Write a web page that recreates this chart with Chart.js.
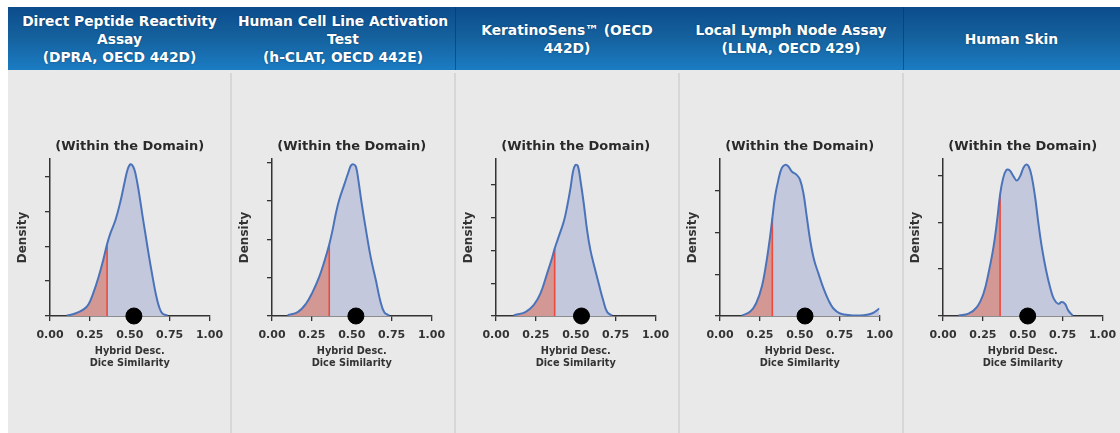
<!DOCTYPE html>
<html>
<head>
<meta charset="utf-8">
<script src="https://cdn.jsdelivr.net/npm/chart.js@4"></script>
<style>
  html, body { margin: 0; padding: 0; width: 1120px; height: 433px; overflow: hidden; background: #ffffff; }
  #header { position: absolute; left: 8px; top: 7px; width: 1112px; height: 63px;
    background: linear-gradient(to bottom, #0c4c8c 0%, #15629f 50%, #1b7cc3 100%); }
  .hcell { position: absolute; top: 0; height: 63px; display: flex; align-items: center; justify-content: center;
    text-align: center; color: #ffffff; font: bold 13.8px "DejaVu Sans", sans-serif; line-height: 18px;
    text-shadow: 0 0 2px rgba(0,0,0,0.35); }
  .hsep { position: absolute; top: 0; width: 1px; height: 63px; background: rgba(10,50,100,0.55); }
  #panels { position: absolute; left: 8px; top: 70px; width: 1112px; height: 363px; background: #e9e9e9; }
  .psep { position: absolute; top: 73px; width: 2px; height: 360px; background: #d7d7d7; }
  canvas.c { position: absolute; top: 130px; }
</style>
</head>
<body>
<div id="header"></div>
<div id="panels"></div>
<script>
// ---- data ----
const panelTitles = [
  ["Direct Peptide Reactivity", "Assay", "(DPRA, OECD 442D)"],
  ["Human Cell Line Activation", "Test", "(h-CLAT, OECD 442E)"],
  ["KeratinoSens\u2122 (OECD", "442D)"],
  ["Local Lymph Node Assay", "(LLNA, OECD 429)"],
  ["Human Skin"]
];
const subTitle = "(Within the Domain)";
const xTickValues = [0, 0.25, 0.5, 0.75, 1.0];

const dpraX = [0.105, 0.158, 0.211, 0.242, 0.274, 0.305, 0.333, 0.358, 0.379, 0.411, 0.442, 0.467, 0.488, 0.505, 0.522, 0.537, 0.558, 0.579, 0.600, 0.621, 0.642, 0.663, 0.684, 0.705, 0.737];
const dpraY = [0.01, 0.07, 0.19, 0.34, 0.69, 1.125, 1.59, 2.06, 2.375, 2.76, 3.29, 3.82, 4.22, 4.35, 4.28, 4.06, 3.53, 2.90, 2.30, 1.70, 1.15, 0.64, 0.26, 0.07, 0.01];

const hclatX = [0.098, 0.161, 0.213, 0.255, 0.296, 0.328, 0.359, 0.380, 0.401, 0.422, 0.453, 0.478, 0.495, 0.511, 0.526, 0.541, 0.562, 0.589, 0.620, 0.651, 0.678, 0.704, 0.735];
const hclatY = [0.02, 0.10, 0.32, 0.63, 1.02, 1.42, 1.87, 2.25, 2.69, 3.04, 3.43, 3.74, 3.93, 3.96, 3.90, 3.56, 2.95, 2.25, 1.51, 0.94, 0.41, 0.10, 0.01];

const kerX = [0.111, 0.184, 0.236, 0.278, 0.320, 0.351, 0.368, 0.393, 0.425, 0.446, 0.467, 0.483, 0.498, 0.513, 0.529, 0.550, 0.571, 0.592, 0.617, 0.644, 0.672, 0.697, 0.728];
const kerY = [0.02, 0.12, 0.33, 0.68, 1.29, 1.76, 2.06, 2.42, 2.88, 3.34, 3.90, 4.41, 4.61, 4.58, 4.15, 3.44, 2.62, 2.01, 1.50, 0.99, 0.48, 0.12, 0.01];

const llnaX = [0.136, 0.188, 0.226, 0.262, 0.293, 0.314, 0.328, 0.345, 0.366, 0.387, 0.408, 0.429, 0.450, 0.481, 0.502, 0.523, 0.544, 0.565, 0.590, 0.617, 0.649, 0.680, 0.711, 0.753, 0.816, 0.900, 0.952, 1.000];
const llnaY = [0.01, 0.10, 0.30, 0.70, 1.34, 1.90, 2.34, 2.86, 3.26, 3.54, 3.62, 3.58, 3.46, 3.38, 3.26, 2.94, 2.38, 1.82, 1.34, 1.02, 0.66, 0.38, 0.18, 0.06, 0.02, 0.02, 0.06, 0.18];

const skinX = [0.098, 0.160, 0.2125, 0.254, 0.285, 0.317, 0.342, 0.358, 0.375, 0.396, 0.417, 0.442, 0.4625, 0.483, 0.504, 0.521, 0.5375, 0.556, 0.577, 0.598, 0.619, 0.646, 0.671, 0.696, 0.723, 0.744, 0.765, 0.785, 0.8125];
const skinY = [0.01, 0.05, 0.19, 0.48, 0.91, 1.48, 2.12, 2.59, 2.91, 3.11, 3.11, 2.98, 2.89, 2.98, 3.16, 3.23, 3.19, 2.98, 2.55, 1.98, 1.48, 0.98, 0.62, 0.36, 0.26, 0.30, 0.26, 0.12, 0.01];

const curvesX = [dpraX, hclatX, kerX, llnaX, skinX];
const curvesY = [dpraY, hclatY, kerY, llnaY, skinY];
const thresholds = [0.358, 0.359, 0.368, 0.328, 0.358];
const queryPoint = [0.526, 0.526, 0.536, 0.533, 0.531];
const yAxisMax = [4.5, 4.1, 4.79, 3.76, 3.35];

// ---- layout (positions only) ----
const panelLefts = [8, 231, 455, 679, 903];
const canvasLefts = [9, 231, 455, 679, 902];

const header = document.getElementById('header');
const hRights = [231, 455, 679, 903, 1120];
panelTitles.forEach((lines, i) => {
  const d = document.createElement('div');
  d.className = 'hcell';
  d.style.left = (panelLefts[i] - 8) + 'px';
  d.style.width = (hRights[i] - panelLefts[i]) + 'px';
  d.innerHTML = lines.join('<br>');
  header.appendChild(d);
});
[455, 903].forEach(x => {
  const s = document.createElement('div'); s.className = 'hsep'; s.style.left = (x - 8) + 'px'; header.appendChild(s);
});
[231, 455, 679, 903].forEach(x => {
  const s = document.createElement('div'); s.className = 'psep'; s.style.left = (x - 1) + 'px'; document.body.appendChild(s);
});

const FONT = '"DejaVu Sans", sans-serif';
const AX = '#333333';

for (let i = 0; i < 5; i++) {
  const cv = document.createElement('canvas');
  cv.className = 'c';
  cv.width = 224; cv.height = 241;
  cv.style.left = canvasLefts[i] + 'px';
  document.body.appendChild(cv);

  const pts = curvesX[i].map((x, k) => ({x: x, y: curvesY[i][k]}));
  const t = thresholds[i];
  const redPts = pts.filter(p => p.x <= t + 1e-9);
  const tTop = redPts[redPts.length - 1].y;

  new Chart(cv, {
    type: 'line',
    data: {
      datasets: [
        { data: [{x: queryPoint[i], y: 0}], showLine: false, pointRadius: 8, pointHoverRadius: 8,
          pointBackgroundColor: '#000000', pointBorderColor: '#000000', clip: false, order: 0 },
        { data: pts, borderColor: '#4a73b9', borderWidth: 2, pointRadius: 0, fill: false,
          tension: 0.4, order: 1 },
        { data: [{x: t, y: 0}, {x: t, y: tTop}], borderColor: '#ec4a3c', borderWidth: 1.6, pointRadius: 0,
          fill: false, tension: 0, order: 2 },
        { data: redPts, borderWidth: 0, borderColor: 'rgba(0,0,0,0)', pointRadius: 0, fill: 'origin',
          backgroundColor: 'rgb(212,152,148)', tension: 0.4, order: 3 },
        { data: pts, borderWidth: 0, borderColor: 'rgba(0,0,0,0)', pointRadius: 0, fill: 'origin',
          backgroundColor: '#c4c8dd', tension: 0.4, order: 4 }
      ]
    },
    options: {
      responsive: false, animation: false, events: [],
      layout: { padding: { left: 0, right: 23.5, top: 0, bottom: 1 } },
      plugins: {
        legend: { display: false }, tooltip: { enabled: false },
        title: { display: true, fullSize: false, text: subTitle, color: '#2a2a2a',
          font: { family: FONT, size: 13, weight: 'bold', lineHeight: 1.2 },
          padding: { top: 9.2, bottom: 4.2 } }
      },
      scales: {
        x: {
          type: 'linear', min: 0, max: 1,
          afterBuildTicks: s => { s.ticks = xTickValues.map(v => ({value: v})); },
          ticks: { callback: v => Number(v).toFixed(2), color: AX, padding: 8, maxRotation: 0,
            font: { family: FONT, size: 11, weight: 'bold' } },
          grid: { display: true, drawOnChartArea: false, drawTicks: true, tickLength: 5, color: AX, lineWidth: 1.3 },
          border: { display: true, color: AX, width: 1.5 },
          title: { display: true, text: ['Hybrid Desc.', 'Dice Similarity'], color: AX,
            font: { family: FONT, size: 9.75, weight: 'bold', lineHeight: 1.25 }, padding: { top: 0, bottom: 0 } },
          afterFit: s => { s.height = 54; }
        },
        y: {
          type: 'linear', min: 0, max: yAxisMax[i],
          ticks: { display: false, stepSize: 1, includeBounds: false },
          grid: { display: true, drawOnChartArea: false, drawTicks: true, tickLength: 5, color: AX, lineWidth: 1.3 },
          border: { display: true, color: AX, width: 1.5 },
          title: { display: true, text: 'Density', color: AX,
            font: { family: FONT, size: 12, weight: 'bold', lineHeight: 1.2 }, padding: { top: 6.5, bottom: 0 } },
          afterFit: s => { s.width = 41; }
        }
      }
    }
  });
}
</script>
</body>
</html>
